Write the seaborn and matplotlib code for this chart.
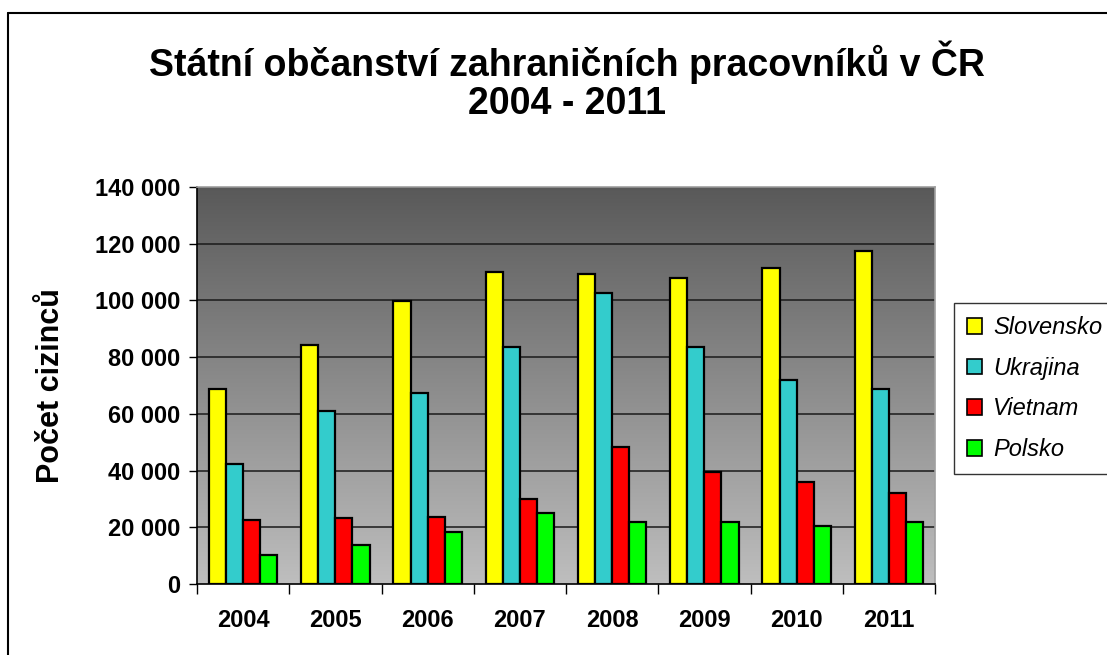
import numpy as np
import pandas as pd
import matplotlib
matplotlib.use("Agg")
import matplotlib.pyplot as plt
from matplotlib.lines import Line2D
from matplotlib.patches import Patch
from matplotlib.ticker import FuncFormatter, MultipleLocator, FixedLocator
from matplotlib.colors import LinearSegmentedColormap
import seaborn as sns

years = ["2004", "2005", "2006", "2007", "2008", "2009", "2010", "2011"]
slovensko = [68600, 84300, 99800, 110000, 109200, 107900, 111300, 117600]
ukrajina = [42200, 61100, 67300, 83600, 102500, 83600, 72000, 68600]
vietnam = [22600, 23100, 23700, 29900, 48300, 39400, 36100, 32000]
polsko = [10200, 13600, 18400, 25100, 21800, 21800, 20400, 21800]
countries = ["Slovensko", "Ukrajina", "Vietnam", "Polsko"]
colors = ["#FFFF00", "#33CCCC", "#FF0000", "#00FF00"]
title_lines = ["Státní občanství zahraničních pracovníků v ČR", "2004 - 2011"]
ylabel = "Počet cizinců"

df = pd.DataFrame({
    "year": years * 4,
    "country": sum([[c] * len(years) for c in countries], []),
    "value": slovensko + ukrajina + vietnam + polsko,
})

sns.set_theme(style="white")
plt.rcParams["font.family"] = ["Liberation Sans", "DejaVu Sans"]
plt.rcParams["text.color"] = "black"
plt.rcParams["xtick.color"] = "black"
plt.rcParams["ytick.color"] = "black"
plt.rcParams["axes.labelcolor"] = "black"

W, H = 1107, 655
fig = plt.figure(figsize=(W / 100, H / 100), dpi=100)
fig.patch.set_facecolor("white")
ax = fig.add_axes([197 / W, 1 - 584 / H, (935 - 197) / W, (584 - 187) / H])

sns.barplot(data=df, x="year", y="value", hue="country", order=years,
            hue_order=countries, palette=colors, edgecolor="black",
            linewidth=1.6, width=0.74, gap=0, saturation=1, ax=ax,
            legend=False, zorder=3)

ax.set_xlim(-0.5, len(years) - 0.5)
ax.set_ylim(0, 140000)

# gradient background
grad = np.linspace(0, 1, 256).reshape(-1, 1)
cmap = LinearSegmentedColormap.from_list("g", ["#bebebe", "#595959"])
ax.imshow(grad, cmap=cmap, aspect="auto", origin="lower",
          extent=[-0.5, len(years) - 0.5, 0, 140000], zorder=0)

ax.yaxis.set_major_locator(MultipleLocator(20000))
ax.yaxis.set_major_formatter(FuncFormatter(lambda v, p: f"{int(v):,}".replace(",", " ")))
for yv in range(20000, 140001, 20000):
    ax.axhline(yv, color="#1a1a1a", lw=1.1, zorder=1)

ax.set_xlabel("")
ax.set_ylabel("")
fig.text(51 / W, 1 - 386 / H, ylabel, rotation=90, ha="center", va="center",
         fontsize=22, fontweight="bold")

ax.tick_params(axis="y", which="major", left=True, length=6, width=1, color="black",
               labelsize=17, pad=6, labelcolor="black")
ax.tick_params(axis="x", which="major", bottom=False, length=0, labelsize=17, pad=18,
               labelcolor="black")
ax.xaxis.set_minor_locator(FixedLocator(np.arange(-0.5, len(years), 1.0)))
ax.tick_params(axis="x", which="minor", bottom=True, length=7, width=1, color="black")
for lab in ax.get_xticklabels() + ax.get_yticklabels():
    lab.set_fontweight("bold")

for s in ["left", "bottom"]:
    ax.spines[s].set_color("black")
    ax.spines[s].set_linewidth(1.2)
for s in ["top", "right"]:
    ax.spines[s].set_color("#a0a0a0")
    ax.spines[s].set_linewidth(1.2)

handles = [Patch(facecolor=c, edgecolor="black", linewidth=1.2) for c in colors]
leg = ax.legend(handles, countries, loc="upper left",
                bbox_to_anchor=(954 / W, 1 - 303 / H), bbox_transform=fig.transFigure,
                frameon=True, fancybox=False, edgecolor="black",
                prop={"size": 17, "style": "italic"}, handlelength=0.65,
                handleheight=0.65, labelspacing=0.75, handletextpad=0.45,
                borderpad=0.55, borderaxespad=0)
leg.get_frame().set_linewidth(1.0)
for t in leg.get_texts():
    t.set_color("black")

fig.text(567 / W, 1 - 62 / H, title_lines[0], ha="center", va="center",
         fontsize=27, fontweight="bold")
fig.text(567 / W, 1 - 104 / H, title_lines[1], ha="center", va="center",
         fontsize=27, fontweight="bold")

# outer border
fig.add_artist(Line2D([8 / W, 1.0], [1 - 13 / H, 1 - 13 / H], color="black", lw=1.5,
                      transform=fig.transFigure))
fig.add_artist(Line2D([8 / W, 8 / W], [1 - 13 / H, 0], color="black", lw=1.5,
                      transform=fig.transFigure))

fig.savefig("out.png", dpi=100)
